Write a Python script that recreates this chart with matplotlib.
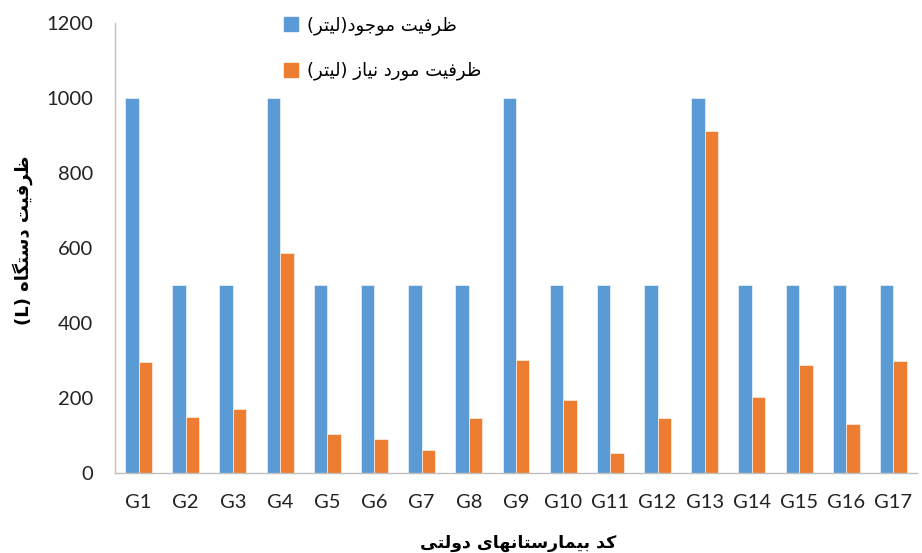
#! /usr/bin/python3

# Existing vs required device capacity for government hospitals (Excel style bar chart)

import numpy as np
import matplotlib.pyplot as plt
from matplotlib.patches import Patch

hospitals = ["G%d" % i for i in range(1, 18)]
existing = [1000, 500, 500, 1000, 500, 500, 500, 500, 1000,
            500, 500, 500, 1000, 500, 500, 500, 500]
required = [295, 150, 171, 587, 105, 90, 60, 147, 301,
            195, 52, 147, 912, 202, 288, 130, 298]
yticks = [0, 200, 400, 600, 800, 1000, 1200]

label_existing = "ظرفیت موجود(لیتر)"
label_required = "ظرفیت مورد نیاز (لیتر)"
ylabel = "ظرفیت دستگاه (L)"
xlabel = "کد بیمارستانهای دولتی"

# matplotlib has no arabic shaping, so pick presentation forms by hand
# (isolated, final, initial, medial); None = letter only joins to the right
FORMS = {
    "ا": ("\uFE8D", "\uFE8E", None, None),
    "ب": ("\uFE8F", "\uFE90", "\uFE91", "\uFE92"),
    "ت": ("\uFE95", "\uFE96", "\uFE97", "\uFE98"),
    "ج": ("\uFE9D", "\uFE9E", "\uFE9F", "\uFEA0"),
    "د": ("\uFEA9", "\uFEAA", None, None),
    "ر": ("\uFEAD", "\uFEAE", None, None),
    "ز": ("\uFEAF", "\uFEB0", None, None),
    "س": ("\uFEB1", "\uFEB2", "\uFEB3", "\uFEB4"),
    "ظ": ("\uFEC5", "\uFEC6", "\uFEC7", "\uFEC8"),
    "ف": ("\uFED1", "\uFED2", "\uFED3", "\uFED4"),
    "ک": ("\uFB8E", "\uFB8F", "\uFB90", "\uFB91"),
    "گ": ("\uFB92", "\uFB93", "\uFB94", "\uFB95"),
    "ل": ("\uFEDD", "\uFEDE", "\uFEDF", "\uFEE0"),
    "م": ("\uFEE1", "\uFEE2", "\uFEE3", "\uFEE4"),
    "ن": ("\uFEE5", "\uFEE6", "\uFEE7", "\uFEE8"),
    "ه": ("\uFEE9", "\uFEEA", "\uFEEB", "\uFEEC"),
    "و": ("\uFEED", "\uFEEE", None, None),
    "ی": ("\uFBFC", "\uFBFD", "\uFBFE", "\uFBFF"),
}


def rtl(s):
    out = []
    for i, c in enumerate(s):
        if c not in FORMS:
            out.append(c)
            continue
        prev = s[i - 1] if i > 0 else ""
        nxt = s[i + 1] if i + 1 < len(s) else ""
        jp = prev in FORMS and FORMS[prev][2] is not None
        jn = FORMS[c][2] is not None and nxt in FORMS
        f = FORMS[c]
        if jp and jn:
            out.append(f[3])
        elif jp:
            out.append(f[1])
        elif jn:
            out.append(f[2])
        else:
            out.append(f[0])
    vis = "".join(reversed(out))
    vis = vis.translate(str.maketrans("()", ")("))
    return vis


plt.rcParams["font.family"] = ["Lato", "DejaVu Sans"]

fig = plt.figure(figsize=(9.22, 5.53), dpi=100, facecolor="w")
ax = fig.add_axes([0.1247, 0.1447, 0.8699, 0.8137])

x = np.arange(len(hospitals))
w = 0.286
ax.bar(x - w / 2, existing, w, color="#5B9BD5", edgecolor="white", linewidth=0.4)
ax.bar(x + w / 2, required, w, color="#ED7D31", edgecolor="white", linewidth=0.4)

ax.set_xlim(-0.5, len(hospitals) - 0.5)
ax.set_ylim(0, 1200)
ax.set_yticks(yticks)
ax.set_xticks(x)
ax.set_xticklabels(hospitals)
ax.tick_params(length=0, labelsize=14.5, colors="#222222")
ax.tick_params(axis="x", pad=15)
ax.tick_params(axis="y", pad=16)
for s in ["top", "right"]:
    ax.spines[s].set_visible(False)
for s in ["left", "bottom"]:
    ax.spines[s].set_color("#BFBFBF")
    ax.spines[s].set_linewidth(1.0)

fig.text(0.025, 0.565, rtl(ylabel), rotation=90, ha="center", va="center",
         fontsize=13, fontweight="bold", family=["DejaVu Sans"])
fig.text(0.562, 0.018, rtl(xlabel), ha="center", va="center",
         fontsize=12.5, fontweight="bold", family=["DejaVu Sans"])

handles = [Patch(color="#5B9BD5"), Patch(color="#ED7D31")]
fig.legend(handles, [rtl(label_existing), rtl(label_required)],
           loc="upper left", bbox_to_anchor=(0.29, 1.0), frameon=False,
           handlelength=0.8, handleheight=0.8, handletextpad=0.5,
           labelspacing=1.5, prop={"family": "DejaVu Sans", "size": 13})

plt.savefig("out.png", dpi=100)
